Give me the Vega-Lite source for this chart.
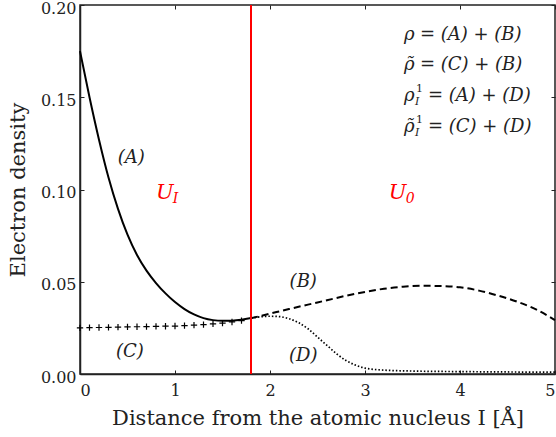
{
  "$schema": "https://vega.github.io/schema/vega-lite/v6.json",
  "width": 475,
  "height": 369,
  "autosize": "none",
  "padding": {"left": 80, "top": 5, "right": 1, "bottom": 63},
  "background": "white",
  "config": {
    "view": {"stroke": "#222", "strokeWidth": 1.5},
    "font": "DejaVu Serif",
    "axis": {
      "labelFont": "DejaVu Serif",
      "titleFont": "DejaVu Serif",
      "labelColor": "#222",
      "titleColor": "#222",
      "domainColor": "#222",
      "domainWidth": 1.5,
      "tickColor": "#222",
      "tickWidth": 1,
      "tickSize": -4,
      "grid": false,
      "labelFontSize": 16,
      "titleFontSize": 21,
      "titleFontWeight": "normal"
    }
  },
  "datasets": {
    "A": [
      {"x": 0, "y": 0.175}, {"x": 0.1, "y": 0.150}, {"x": 0.2, "y": 0.127}, {"x": 0.3, "y": 0.1065},
      {"x": 0.4, "y": 0.0895}, {"x": 0.5, "y": 0.0755}, {"x": 0.6, "y": 0.0645}, {"x": 0.7, "y": 0.0560},
      {"x": 0.8, "y": 0.0493}, {"x": 0.9, "y": 0.0437}, {"x": 1.0, "y": 0.0390}, {"x": 1.1, "y": 0.0352},
      {"x": 1.2, "y": 0.0323}, {"x": 1.3, "y": 0.0303}, {"x": 1.4, "y": 0.0292}, {"x": 1.5, "y": 0.0288},
      {"x": 1.6, "y": 0.0289}, {"x": 1.7, "y": 0.0294}, {"x": 1.8, "y": 0.0303}
    ],
    "B": [
      {"x": 1.8, "y": 0.0302}, {"x": 2.0, "y": 0.0327}, {"x": 2.2, "y": 0.0352}, {"x": 2.4, "y": 0.0376},
      {"x": 2.6, "y": 0.0400}, {"x": 2.8, "y": 0.0424}, {"x": 3.0, "y": 0.0445}, {"x": 3.2, "y": 0.0462},
      {"x": 3.4, "y": 0.0473}, {"x": 3.6, "y": 0.0478}, {"x": 3.8, "y": 0.0477}, {"x": 4.0, "y": 0.0470},
      {"x": 4.2, "y": 0.0452}, {"x": 4.4, "y": 0.0425}, {"x": 4.6, "y": 0.0392}, {"x": 4.8, "y": 0.0350},
      {"x": 5.0, "y": 0.0292}
    ],
    "C": [
      {"x": 0, "y": 0.0250}, {"x": 0.1, "y": 0.0251}, {"x": 0.2, "y": 0.0252}, {"x": 0.3, "y": 0.0253},
      {"x": 0.4, "y": 0.0254}, {"x": 0.5, "y": 0.0255}, {"x": 0.6, "y": 0.0256}, {"x": 0.7, "y": 0.0257},
      {"x": 0.8, "y": 0.0258}, {"x": 0.9, "y": 0.0259}, {"x": 1.0, "y": 0.0260}, {"x": 1.1, "y": 0.0262},
      {"x": 1.2, "y": 0.0265}, {"x": 1.3, "y": 0.0268}, {"x": 1.4, "y": 0.0272}, {"x": 1.5, "y": 0.0276},
      {"x": 1.6, "y": 0.0282}, {"x": 1.7, "y": 0.0289}
    ],
    "D": [
      {"x": 1.8, "y": 0.0302}, {"x": 1.9, "y": 0.0310}, {"x": 2.0, "y": 0.0313}, {"x": 2.1, "y": 0.0311},
      {"x": 2.2, "y": 0.0300}, {"x": 2.3, "y": 0.0278}, {"x": 2.4, "y": 0.0245}, {"x": 2.5, "y": 0.0200},
      {"x": 2.6, "y": 0.0155}, {"x": 2.7, "y": 0.0110}, {"x": 2.8, "y": 0.0073}, {"x": 2.9, "y": 0.0048},
      {"x": 3.0, "y": 0.0032}, {"x": 3.2, "y": 0.0021}, {"x": 3.5, "y": 0.0016}, {"x": 4.0, "y": 0.0013},
      {"x": 4.5, "y": 0.0011}, {"x": 5.0, "y": 0.0010}
    ],
    "labels": [
      {"x": 0.54, "y": 0.1169, "t": "(A)"},
      {"x": 2.35, "y": 0.0500, "t": "(B)"},
      {"x": 0.526, "y": 0.0121, "t": "(C)"},
      {"x": 2.35, "y": 0.0098, "t": "(D)"}
    ],
    "lhs": [
      {"x": 3.41, "y": 0.1837, "t": "ρ"},
      {"x": 3.41, "y": 0.1675, "t": "ρ̃"},
      {"x": 3.41, "y": 0.1507, "t": "ρ"},
      {"x": 3.41, "y": 0.1339, "t": "ρ̃"}
    ],
    "rhs1": [
      {"x": 3.41, "y": 0.1837, "t": "= (A) + (B)"},
      {"x": 3.41, "y": 0.1675, "t": "= (C) + (B)"}
    ],
    "rhs2": [
      {"x": 3.41, "y": 0.1507, "t": "= (A) + (D)"},
      {"x": 3.41, "y": 0.1339, "t": "= (C) + (D)"}
    ],
    "sups": [
      {"x": 3.41, "y": 0.1507, "t": "1"},
      {"x": 3.41, "y": 0.1339, "t": "1"}
    ],
    "subs": [
      {"x": 3.41, "y": 0.1507, "t": "I"},
      {"x": 3.41, "y": 0.1339, "t": "I"}
    ],
    "U": [
      {"x": 0.892, "y": 0.0979, "t": "U", "s": "I"},
      {"x": 3.344, "y": 0.0983, "t": "U", "s": "0"}
    ],
    "vline": [{"x": 1.8}]
  },
  "resolve": {"axis": {"x": "independent", "y": "independent"}},
  "layer": [
    {
      "data": {"name": "A"},
      "mark": {"type": "line", "color": "black", "strokeWidth": 2, "interpolate": "monotone"},
      "encoding": {
        "x": {"field": "x", "type": "quantitative",
              "scale": {"domain": [0, 5], "nice": false, "zero": false},
              "axis": {"orient": "bottom", "values": [0, 1, 2, 3, 4, 5], "format": "d",
                       "title": "Distance from the atomic nucleus I [Å]", "labelPadding": 12, "titlePadding": 9}},
        "y": {"field": "y", "type": "quantitative",
              "scale": {"domain": [0, 0.2], "nice": false, "zero": false},
              "axis": {"orient": "left", "values": [0, 0.05, 0.1, 0.15, 0.2], "format": ".2f", "labelOffset": 3,
                       "title": "Electron density", "labelPadding": 8, "titlePadding": 12}}
      }
    },
    {
      "data": {"name": "B"},
      "mark": {"type": "line", "color": "black", "strokeWidth": 2, "strokeDash": [7, 4], "interpolate": "monotone"},
      "encoding": {
        "x": {"field": "x", "type": "quantitative",
              "axis": {"orient": "top", "values": [0, 1, 2, 3, 4, 5], "labels": false, "title": null, "domain": false}},
        "y": {"field": "y", "type": "quantitative",
              "axis": {"orient": "right", "values": [0, 0.05, 0.1, 0.15, 0.2], "labels": false, "title": null, "domain": false}}
      }
    },
    {
      "data": {"name": "D"},
      "mark": {"type": "line", "color": "black", "strokeWidth": 1.7, "strokeDash": [1.5, 2], "interpolate": "monotone"},
      "encoding": {
        "x": {"field": "x", "type": "quantitative", "axis": null},
        "y": {"field": "y", "type": "quantitative", "axis": null}
      }
    },
    {
      "data": {"name": "C"},
      "mark": {"type": "point", "shape": "M-1,0L1,0M0,-1L0,1", "size": 40, "stroke": "black", "strokeWidth": 1.2, "filled": false, "opacity": 1},
      "encoding": {
        "x": {"field": "x", "type": "quantitative", "axis": null},
        "y": {"field": "y", "type": "quantitative", "axis": null}
      }
    },
    {
      "data": {"name": "vline"},
      "mark": {"type": "rule", "color": "#ff0000", "strokeWidth": 2},
      "encoding": {
        "x": {"field": "x", "type": "quantitative", "axis": null}
      }
    },
    {
      "data": {"name": "labels"},
      "mark": {"type": "text", "font": "DejaVu Serif", "fontSize": 18, "fontStyle": "italic", "color": "#222", "align": "center", "baseline": "middle"},
      "encoding": {
        "x": {"field": "x", "type": "quantitative", "axis": null},
        "y": {"field": "y", "type": "quantitative", "axis": null},
        "text": {"field": "t"}
      }
    },
    {
      "data": {"name": "lhs"},
      "mark": {"type": "text", "font": "DejaVu Serif", "fontSize": 18, "fontStyle": "italic", "color": "#222", "align": "left", "baseline": "middle"},
      "encoding": {
        "x": {"field": "x", "type": "quantitative", "axis": null},
        "y": {"field": "y", "type": "quantitative", "axis": null},
        "text": {"field": "t"}
      }
    },
    {
      "data": {"name": "rhs1"},
      "mark": {"type": "text", "font": "DejaVu Serif", "fontSize": 18, "fontStyle": "italic", "color": "#222", "align": "left", "baseline": "middle", "dx": 16},
      "encoding": {
        "x": {"field": "x", "type": "quantitative", "axis": null},
        "y": {"field": "y", "type": "quantitative", "axis": null},
        "text": {"field": "t"}
      }
    },
    {
      "data": {"name": "rhs2"},
      "mark": {"type": "text", "font": "DejaVu Serif", "fontSize": 18, "fontStyle": "italic", "color": "#222", "align": "left", "baseline": "middle", "dx": 24},
      "encoding": {
        "x": {"field": "x", "type": "quantitative", "axis": null},
        "y": {"field": "y", "type": "quantitative", "axis": null},
        "text": {"field": "t"}
      }
    },
    {
      "data": {"name": "sups"},
      "mark": {"type": "text", "font": "DejaVu Serif", "fontSize": 11, "color": "#222", "align": "left", "baseline": "middle", "dx": 12, "dy": -7},
      "encoding": {
        "x": {"field": "x", "type": "quantitative", "axis": null},
        "y": {"field": "y", "type": "quantitative", "axis": null},
        "text": {"field": "t"}
      }
    },
    {
      "data": {"name": "subs"},
      "mark": {"type": "text", "font": "DejaVu Serif", "fontSize": 11, "fontStyle": "italic", "color": "#222", "align": "left", "baseline": "middle", "dx": 11, "dy": 6},
      "encoding": {
        "x": {"field": "x", "type": "quantitative", "axis": null},
        "y": {"field": "y", "type": "quantitative", "axis": null},
        "text": {"field": "t"}
      }
    },
    {
      "data": {"name": "U"},
      "mark": {"type": "text", "font": "DejaVu Serif", "fontSize": 21, "fontStyle": "italic", "color": "#ff0000", "align": "center", "baseline": "middle"},
      "encoding": {
        "x": {"field": "x", "type": "quantitative", "axis": null},
        "y": {"field": "y", "type": "quantitative", "axis": null},
        "text": {"field": "t"}
      }
    },
    {
      "data": {"name": "U"},
      "mark": {"type": "text", "font": "DejaVu Serif", "fontSize": 14, "fontStyle": "italic", "color": "#ff0000", "align": "left", "baseline": "middle", "dx": 8, "dy": 6},
      "encoding": {
        "x": {"field": "x", "type": "quantitative", "axis": null},
        "y": {"field": "y", "type": "quantitative", "axis": null},
        "text": {"field": "s"}
      }
    }
  ]
}
